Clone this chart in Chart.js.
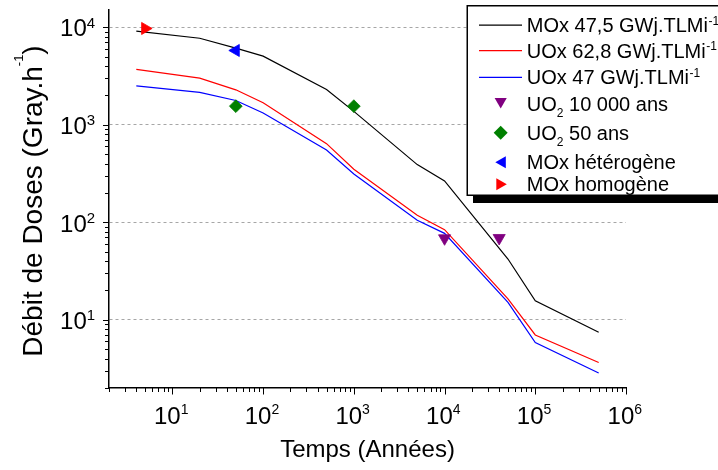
<!DOCTYPE html>
<html>
<head>
<meta charset="utf-8">
<script src="https://cdn.jsdelivr.net/npm/chart.js@4/dist/chart.umd.min.js"></script>
<style>
  html, body { margin: 0; padding: 0; background: #fff; }
  #wrap { width: 718px; height: 470px; position: relative; }
  canvas { display: block; }
</style>
</head>
<body>
<div id="wrap"><canvas id="c" width="718" height="470"></canvas></div>
<script>
// ---------- DATA ----------
const timeYears = [4, 20, 50, 100, 500, 1000, 5000, 10000, 50000, 100000, 500000];
const mox475 = [9100, 7700, 6100, 5050, 2300, 1370, 390, 265, 42, 15.7, 7.45];
const uox628 = [3700, 3000, 2280, 1680, 640, 350, 118, 84, 16.4, 7.0, 3.65];
const uox47  = [2500, 2150, 1770, 1320, 550, 313, 105, 77, 15.1, 5.85, 2.85];

const uo2_10000_x = [10000, 40000];
const uo2_10000_y = [68.5, 69];
const uo2_50_x = [50, 1000];
const uo2_50_y = [1550, 1550];
const moxHet_x = [50];
const moxHet_y = [5770];
const moxHom_x = [5];
const moxHom_y = [9700];

const xTickExps = [1, 2, 3, 4, 5, 6];
const yTickExps = [1, 2, 3, 4];

const xTitle = 'Temps (Années)';
const yTitleMain = 'Débit de Doses (Gray.h';
const yTitleSup = '-1';
const yTitleEnd = ')';

const seriesNames = ['MOx 47,5 GWj.TLMi', 'UOx 62,8 GWj.TLMi', 'UOx 47 GWj.TLMi',
                     'UO', 'UO', 'MOx hétérogène', 'MOx homogène'];

// ---------- HELPERS ----------
const FONT = '"Liberation Sans", Arial, Helvetica, sans-serif';
function pts(xs, ys) { return xs.map((x, i) => ({ x: x, y: ys[i] })); }
function isDecade(v) { const l = Math.log10(v); return Math.abs(l - Math.round(l)) < 1e-9; }
function logTicks(min, max) {
  const out = [];
  for (let e = -1; e <= 7; e++) {
    for (let m = 1; m <= 9; m++) {
      const v = m * Math.pow(10, e);
      if (v >= min * (1 - 1e-9) && v <= max * (1 + 1e-9)) out.push(v);
    }
  }
  return out;
}

function drawMarker(ctx, style, rot, r, x, y, color) {
  ctx.save();
  ctx.fillStyle = color;
  ctx.beginPath();
  if (style === 'triangle') {
    let rad = rot * Math.PI / 180;
    for (let k = 0; k < 3; k++) {
      const px = x + Math.sin(rad) * r, py = y - Math.cos(rad) * r;
      if (k === 0) ctx.moveTo(px, py); else ctx.lineTo(px, py);
      rad += 2 * Math.PI / 3;
    }
  } else {
    ctx.moveTo(x - r, y); ctx.lineTo(x, y - r); ctx.lineTo(x + r, y); ctx.lineTo(x, y + r);
  }
  ctx.closePath();
  ctx.fill();
  ctx.restore();
}

const overlay = {
  id: 'overlay',
  afterDraw(chart) {
    const ctx = chart.ctx;
    const xs = chart.scales.x, ys = chart.scales.y;
    const a = chart.chartArea;
    ctx.save();
    // tick marks
    ctx.strokeStyle = '#000';
    ctx.lineWidth = 1;
    xs.ticks.forEach(t => {
      const p = Math.round(xs.getPixelForValue(t.value)) + 0.5;
      const len = t.major ? 6.5 : 4;
      ctx.beginPath(); ctx.moveTo(p, a.bottom); ctx.lineTo(p, a.bottom + len); ctx.stroke();
    });
    ys.ticks.forEach(t => {
      const p = Math.round(ys.getPixelForValue(t.value)) + 0.5;
      const len = t.major ? 6 : 4;
      ctx.beginPath(); ctx.moveTo(a.left, p); ctx.lineTo(a.left - len, p); ctx.stroke();
    });

    // tick labels
    ctx.fillStyle = '#000';
    ctx.textBaseline = 'alphabetic';
    const bigF = '24px ' + FONT, supF = '14px ' + FONT;
    xTickExps.forEach(e => {
      const p = xs.getPixelForValue(Math.pow(10, e));
      ctx.font = bigF; const w1 = ctx.measureText('10').width;
      ctx.font = supF; const w2 = ctx.measureText(String(e)).width;
      const x0 = p - (w1 + w2) / 2 - 1.2;
      ctx.textAlign = 'left';
      ctx.font = bigF; ctx.fillText('10', x0, 424);
      ctx.font = supF; ctx.fillText(String(e), x0 + w1, 413.5);
    });
    yTickExps.forEach(e => {
      const p = ys.getPixelForValue(Math.pow(10, e));
      ctx.textAlign = 'right';
      ctx.font = bigF; ctx.fillText('10', 86.8, p + 9.3);
      ctx.textAlign = 'left';
      ctx.font = '15px ' + FONT; ctx.fillText(String(e), 86.8, p + 0.5);
    });

    // x title
    ctx.textAlign = 'center';
    ctx.font = '24px ' + FONT;
    ctx.fillText(xTitle, (a.left + a.right) / 2, 457);

    // y title (rotated)
    ctx.save();
    ctx.translate(41.7, 201);
    ctx.rotate(-Math.PI / 2);
    ctx.textAlign = 'left';
    const tF = '28px ' + FONT, tS = '13px ' + FONT;
    ctx.font = tF; const m1 = ctx.measureText(yTitleMain).width;
    ctx.font = tS; const m2 = ctx.measureText(yTitleSup).width;
    ctx.font = tF; const m3 = ctx.measureText(yTitleEnd).width;
    let sx = -(m1 + m2 + m3) / 2;
    ctx.font = tF; ctx.fillText(yTitleMain, sx, 0); sx += m1;
    ctx.font = tS; ctx.fillText(yTitleSup, sx, -19); sx += m2;
    ctx.font = tF; ctx.fillText(yTitleEnd, sx, 0);
    ctx.restore();

    // legend box with shadow
    ctx.fillStyle = '#000';
    ctx.fillRect(473, 12, 260, 191);
    ctx.fillStyle = '#fff';
    ctx.fillRect(467, 6, 260, 189);
    ctx.strokeStyle = '#000';
    ctx.lineWidth = 1.5;
    ctx.strokeRect(467.25, 5.75, 260, 189.5);

    const tx = 526.8;
    const lf = '20px ' + FONT, ls = '12px ' + FONT;
    ctx.textAlign = 'left';
    // line entries
    const lineRows = [
      { y: 25.2, base: 32.3, color: '#000000', label: seriesNames[0] },
      { y: 50.7, base: 57.8, color: '#ff0000', label: seriesNames[1] },
      { y: 77.3, base: 84, color: '#0000ff', label: seriesNames[2] }
    ];
    lineRows.forEach(r => {
      ctx.strokeStyle = r.color; ctx.lineWidth = 1.3;
      ctx.beginPath(); ctx.moveTo(479, r.y); ctx.lineTo(522, r.y); ctx.stroke();
      ctx.fillStyle = '#000';
      ctx.font = lf; ctx.fillText(r.label, tx, r.base);
      const w = ctx.measureText(r.label).width;
      ctx.font = ls; ctx.fillText('-1', tx + w + 0.5, r.base - 7.5);
    });
    // marker entries
    drawMarker(ctx, 'triangle', 180, 7, 500.7, 101.6, '#800080');
    drawMarker(ctx, 'rectRot', 0, 7, 500.7, 132.7, '#008000');
    drawMarker(ctx, 'triangle', 270, 7, 502.3, 162.3, '#0000ff');
    drawMarker(ctx, 'triangle', 90, 7, 499.8, 184.3, '#ff0000');

    ctx.fillStyle = '#000';
    // UO2 10 000 ans
    let b = 110.5;
    ctx.font = lf; ctx.fillText(seriesNames[3], tx, b);
    let w = ctx.measureText(seriesNames[3]).width;
    ctx.font = ls; ctx.fillText('2', tx + w, b + 6);
    let w2 = ctx.measureText('2').width;
    ctx.font = lf; ctx.fillText(' 10 000 ans', tx + w + w2, b);
    // UO2 50 ans
    b = 139.5;
    ctx.font = lf; ctx.fillText(seriesNames[4], tx, b);
    ctx.font = ls; ctx.fillText('2', tx + w, b + 6);
    ctx.font = lf; ctx.fillText(' 50 ans', tx + w + w2, b);
    // MOx
    ctx.fillText(seriesNames[5], tx, 168.5);
    ctx.fillText(seriesNames[6], tx, 190.8);
    ctx.restore();
  }
};

const lineDs = (label, ys, color) => ({
  label: label, data: pts(timeYears, ys), showLine: true, borderColor: color,
  backgroundColor: color, borderWidth: 1.2, pointRadius: 0, pointHoverRadius: 0,
  tension: 0, fill: false, order: 2
});
const markDs = (label, xs, ys, color, style, rot, r) => ({
  label: label, data: pts(xs, ys), showLine: false, pointStyle: style, rotation: rot,
  pointRadius: r, pointBorderWidth: 0.8, borderColor: color, backgroundColor: color,
  pointBackgroundColor: color, pointBorderColor: color, order: 1
});

new Chart(document.getElementById('c'), {
  type: 'scatter',
  data: {
    datasets: [
      markDs('UO2 10 000 ans', uo2_10000_x, uo2_10000_y, '#800080', 'triangle', 180, 7),
      markDs('UO2 50 ans', uo2_50_x, uo2_50_y, '#008000', 'rectRot', 0, 6.4),
      markDs('MOx hétérogène', moxHet_x, moxHet_y, '#0000ff', 'triangle', 270, 7),
      markDs('MOx homogène', moxHom_x, moxHom_y, '#ff0000', 'triangle', 90, 7),
      lineDs('MOx 47,5 GWj.TLMi-1', mox475, '#000000'),
      lineDs('UOx 62,8 GWj.TLMi-1', uox628, '#ff0000'),
      lineDs('UOx 47 GWj.TLMi-1', uox47, '#0000ff')
    ]
  },
  options: {
    responsive: false,
    animation: false,
    devicePixelRatio: 1,
    events: [],
    layout: { padding: { left: 0, right: 92, top: 10, bottom: 0 } },
    plugins: { legend: { display: false }, tooltip: { enabled: false }, title: { display: false } },
    scales: {
      x: {
        type: 'logarithmic', min: 2, max: 1e6, position: 'bottom',
        afterBuildTicks: s => { s.ticks = logTicks(2, 1e6).map(v => ({ value: v, major: isDecade(v) })); },
        afterFit: s => { s.height = 82; },
        ticks: { display: false },
        grid: { display: false, drawTicks: false },
        border: { display: true, color: '#000', width: 1.5 }
      },
      y: {
        type: 'logarithmic', min: 2, max: 15000, position: 'left',
        afterBuildTicks: s => { s.ticks = logTicks(2, 15000).map(v => ({ value: v, major: isDecade(v) })); },
        afterFit: s => { s.width = 109; },
        ticks: { display: false },
        grid: {
          display: true, drawTicks: false, lineWidth: 1,
          color: c => (c.tick && c.tick.major) ? '#a6a6a6' : 'rgba(0,0,0,0)'
        },
        border: { display: true, color: '#000', width: 1.5, dash: [3, 3] }
      }
    }
  },
  plugins: [overlay]
});
</script>
</body>
</html>
